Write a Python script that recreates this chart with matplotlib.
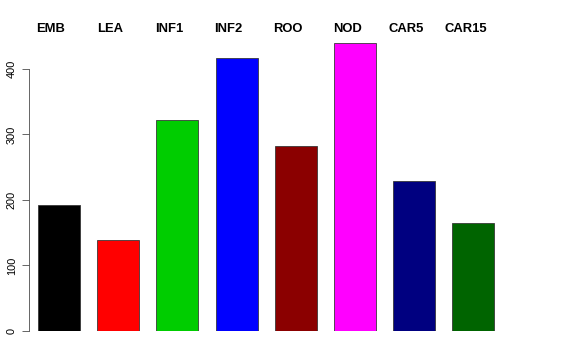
import matplotlib
matplotlib.use("Agg")
import matplotlib.pyplot as plt
from matplotlib.transforms import blended_transform_factory, ScaledTranslation

categories = ["EMB", "LEA", "INF1", "INF2", "ROO", "NOD", "CAR5", "CAR15"]
values = [192, 139, 322, 417, 282, 440, 229, 165]
colors = ["#000000", "#FF0000", "#00CD00", "#0000FF", "#8B0000", "#FF00FF", "#000080", "#006400"]
yticks = [0, 100, 200, 300, 400]

plt.rcParams['font.family'] = ['Liberation Sans', 'DejaVu Sans']

fig = plt.figure(figsize=(8, 5), dpi=72)
ax = fig.add_axes([0.0503, 0.0806, 0.8237, 0.8187])

x = list(range(len(categories)))
ax.bar(x, values, width=0.71, color=colors, edgecolor="#333333", linewidth=0.8)
ax.set_xlim(-0.507, len(categories) - 1 + 0.507)
ax.set_ylim(0, 450)

for s in ["top", "right", "bottom"]:
    ax.spines[s].set_visible(False)
ax.spines["left"].set_bounds(0, 400)
ax.spines["left"].set_color("#444444")
ax.spines["left"].set_linewidth(0.8)
ax.set_xticks([])
ax.set_yticks(yticks)
ax.set_yticklabels([str(t) for t in yticks], rotation=90, va="center", fontsize=11)
ax.tick_params(axis="y", length=7, width=0.8, color="#444444", pad=5)

trans = blended_transform_factory(ax.transData, fig.transFigure) + \
    ScaledTranslation(-8 / 72, 0, fig.dpi_scale_trans)
for xi, c in zip(x, categories):
    ax.text(xi, (360 - 29.5) / 360, c, transform=trans, ha="center",
            va="center", fontsize=13, fontweight="bold")

fig.savefig("out.png", dpi=72)
